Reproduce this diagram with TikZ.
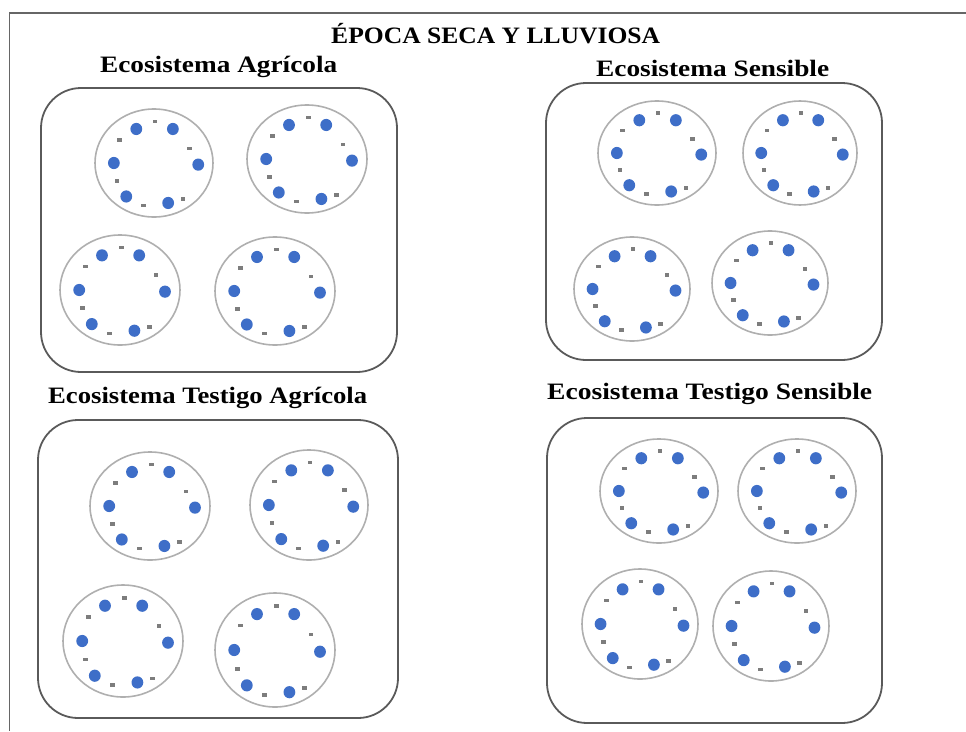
\documentclass[tikz,border=0pt]{standalone}
\usepackage{fontspec}
\usepackage{graphicx}
\setmainfont{Liberation Serif}
\usetikzlibrary{shapes.geometric}
\definecolor{dotblue}{RGB}{62,110,200}
\definecolor{ringgray}{RGB}{175,175,175}
\definecolor{boxgray}{RGB}{90,90,90}
\definecolor{markgray}{RGB}{125,125,125}
\tikzset{
  frameline/.style={draw=gray!80!black, line width=1.6pt},
  ecobox/.style={draw=boxgray, line width=1.8pt, rounded corners=40pt},
  plate/.style={ellipse, draw=ringgray, line width=1.6pt, inner sep=0pt},
  dotfill/.style={fill=dotblue},
  markfill/.style={fill=markgray},
  lab/.style={anchor=base west, inner sep=0pt, font=\bfseries\fontsize{23.5}{26}\selectfont}
}
\newcommand\myplate[5]{%
  \node[plate, minimum width=#4*2pt, minimum height=#5*2pt] (#1) at (#2,#3) {};
  \foreach \dx/\dy in {-0.30/-0.63,0.32/-0.63,-0.68/0.00,0.75/0.03,-0.47/0.62,0.24/0.74}
    \fill[dotfill, shift={(#2,#3)}] (\dx*#4,\dy*#5) ellipse [x radius=5.9, y radius=6.1];
  \foreach \dx/\dy in {0.02/-0.77,-0.58/-0.43,0.60/-0.27,-0.63/0.33,-0.18/0.79,0.49/0.67}
    \fill[markfill, shift={(#2,#3)}] (\dx*#4-2.3,\dy*#5-1.8) rectangle ++(4.6,3.6);
}
\begin{document}
\begin{tikzpicture}[x=1pt,y=-1pt]
\useasboundingbox (0,0) rectangle (966,731);
\draw[frameline] (966,13) -- (9.5,13) -- (9.5,731);
% title and labels
\node[lab] (title) at (331,43) {\resizebox{329pt}{\height}{ÉPOCA SECA Y LLUVIOSA}};
\node[lab] (labA) at (100,72) {\resizebox{237pt}{\height}{Ecosistema Agrícola}};
\node[lab] (labS) at (596,76) {\resizebox{233pt}{\height}{Ecosistema Sensible}};
\node[lab] (labTA) at (48,403) {\resizebox{319pt}{\height}{Ecosistema Testigo Agrícola}};
\node[lab] (labTS) at (547,399) {\resizebox{325pt}{\height}{Ecosistema Testigo Sensible}};
% boxes
\draw[ecobox] (41,88) rectangle (397,372);
\draw[ecobox] (546,83) rectangle (882,360);
\draw[ecobox] (38,420) rectangle (398,718);
\draw[ecobox] (547,418) rectangle (882,723);
% plates box 1
\myplate{a1}{154}{163}{59}{54}
\myplate{a2}{307}{159}{60}{54}
\myplate{a3}{120}{290}{60}{55}
\myplate{a4}{275}{291}{60}{54}
% plates box 2
\myplate{s1}{657}{153}{59}{52}
\myplate{s2}{800}{153}{57}{52}
\myplate{s3}{632}{289}{58}{52}
\myplate{s4}{770}{283}{58}{52}
% plates box 3
\myplate{ta1}{150}{506}{60}{54}
\myplate{ta2}{309}{505}{59}{55}
\myplate{ta3}{123}{641}{60}{56}
\myplate{ta4}{275}{650}{60}{57}
% plates box 4
\myplate{ts1}{659}{491}{59}{52}
\myplate{ts2}{797}{491}{59}{52}
\myplate{ts3}{640}{624}{58}{55}
\myplate{ts4}{771}{626}{58}{55}
\end{tikzpicture}
\end{document}
